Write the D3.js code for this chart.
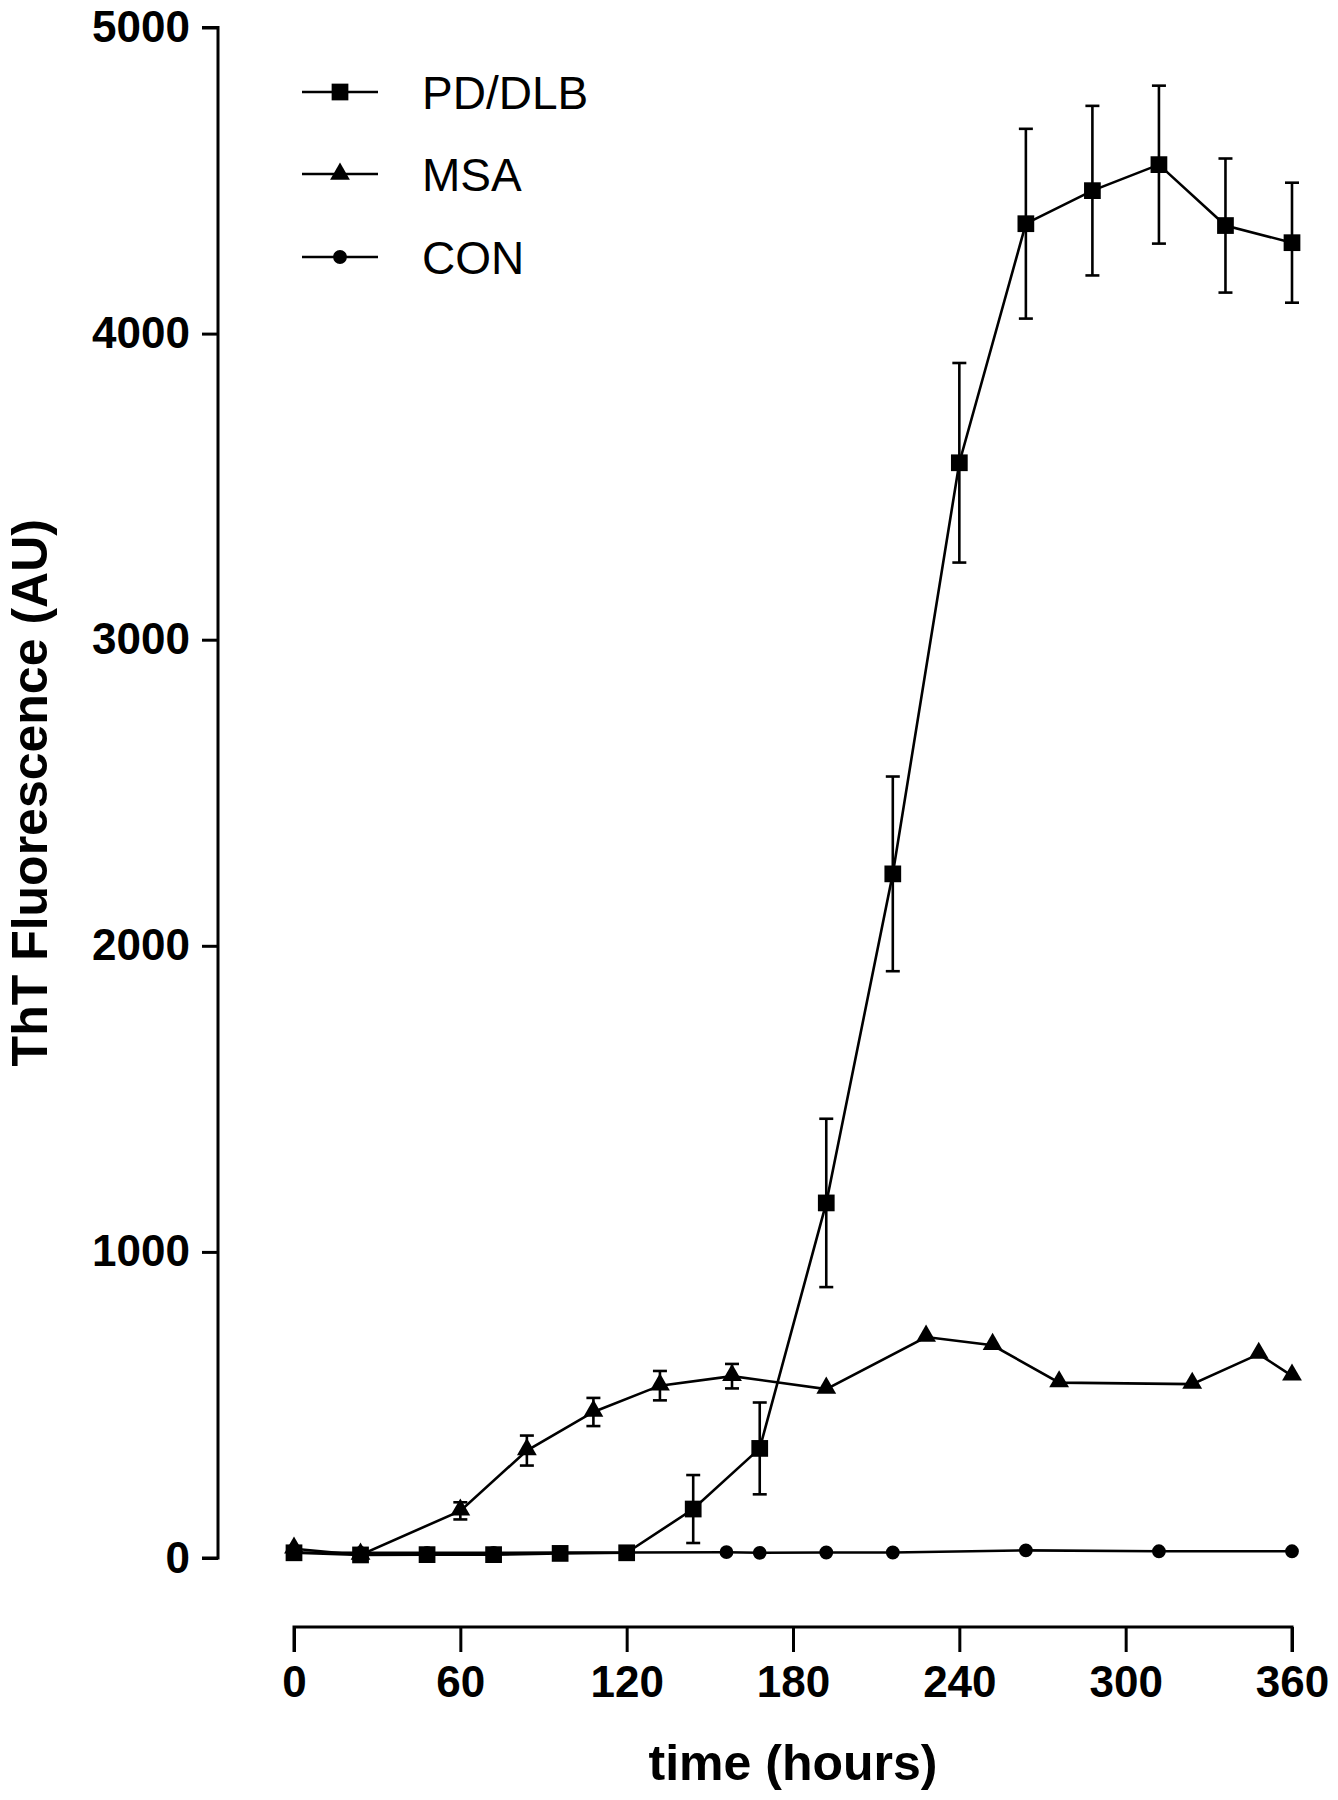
<!DOCTYPE html>
<html>
<head>
<meta charset="utf-8">
<script src="https://cdn.jsdelivr.net/npm/d3@7"></script>
<style>
  body { margin: 0; background: #fff; }
  svg text { font-family: "Liberation Sans", Arial, Helvetica, sans-serif; fill: #000; }
</style>
</head>
<body>
<div id="maincontent"></div>
<script>
// ---- data ----
var pdTime  = [0, 24, 48, 72, 96, 120, 144, 168, 192, 216, 240, 264, 288, 312, 336, 360];
var pdValue = [17, 10, 11, 11, 15, 17, 160, 358, 1160, 2235, 3578, 4359, 4467, 4552, 4353, 4297];
var pdErr   = [0, 0, 0, 0, 0, 0, 111, 150, 275, 318, 326, 310, 277, 258, 219, 196];

var msaTime  = [0, 24, 60, 84, 108, 132, 158, 192, 228, 252, 276, 324, 348, 360];
var msaValue = [30, 10, 154, 351, 477, 563, 594, 552, 722, 695, 573, 568, 666, 595];
var msaErr   = [0, 0, 28, 49, 46, 48, 40, 0, 0, 0, 0, 0, 0, 0];

var conTime  = [0, 24, 48, 72, 96, 120, 156, 168, 192, 216, 264, 312, 360];
var conValue = [18, 17, 17, 17, 18, 18, 19, 17, 18, 18, 25, 22, 22];

var xTicks = [0, 60, 120, 180, 240, 300, 360];
var yTicks = [0, 1000, 2000, 3000, 4000, 5000];
var seriesNames = ["PD/DLB", "MSA", "CON"];

// ---- layout ----
var width = 1338, height = 1800;

var svg = d3.select("#maincontent").append("svg")
    .attr("width", width)
    .attr("height", height);

var x = d3.scaleLinear().domain([0, 360]).range([294, 1292]);
var y = d3.scaleLinear().domain([0, 5000]).range([1558, 27.5]);

function zip(t, v, e) {
    return t.map(function (d, i) { return {t: d, v: v[i], e: e ? e[i] : 0}; });
}
var pd = zip(pdTime, pdValue, pdErr);
var msa = zip(msaTime, msaValue, msaErr);
var con = zip(conTime, conValue);

// y axis
var yAxis = svg.append("g")
    .attr("transform", "translate(218,0)")
    .call(d3.axisLeft(y).tickValues(yTicks).tickSize(16).tickPadding(12).tickFormat(d3.format("d")));
yAxis.select(".domain").attr("stroke", "#000").attr("stroke-width", 3)
    .attr("d", "M-16," + y(5000) + "H0V" + y(0) + "H-16");
yAxis.selectAll(".tick line").attr("stroke", "#000").attr("stroke-width", 3);
yAxis.selectAll(".tick text")
    .style("font-size", "44px").style("font-weight", "bold")
    .style("font-family", "'Liberation Sans', Arial, sans-serif");

// x axis (detached below the plot)
var xAxis = svg.append("g")
    .attr("transform", "translate(0,1627)")
    .call(d3.axisBottom(x).tickValues(xTicks).tickSize(25).tickPadding(14));
xAxis.select(".domain").attr("stroke", "#000").attr("stroke-width", 3)
    .attr("d", "M" + x(0) + ",25V0H" + x(360) + "V25");
xAxis.selectAll(".tick line").attr("stroke", "#000").attr("stroke-width", 3);
xAxis.selectAll(".tick text")
    .style("font-size", "44px").style("font-weight", "bold")
    .style("font-family", "'Liberation Sans', Arial, sans-serif");

// axis titles
svg.append("text")
    .attr("x", (x(0) + x(360)) / 2)
    .attr("y", 1780)
    .attr("text-anchor", "middle")
    .style("font-size", "50px").style("font-weight", "bold")
    .text("time (hours)");

svg.append("text")
    .attr("transform", "translate(47," + ((y(0) + y(5000)) / 2) + ")rotate(-90)")
    .attr("text-anchor", "middle")
    .style("font-size", "50px").style("font-weight", "bold")
    .text("ThT Fluorescence (AU)");

// lines
var line = d3.line()
    .x(function (d) { return x(d.t); })
    .y(function (d) { return y(d.v); });

var plot = svg.append("g");

[con, msa, pd].forEach(function (s) {
    plot.append("path")
        .datum(s)
        .attr("fill", "none")
        .attr("stroke", "#000")
        .attr("stroke-width", 2.6)
        .attr("d", line);
});

// error bars
function errorBars(data) {
    var g = plot.append("g").attr("stroke", "#000").attr("stroke-width", 2.6);
    var withErr = data.filter(function (d) { return d.e > 0; });
    g.selectAll(".stem").data(withErr).enter().append("line")
        .attr("x1", function (d) { return x(d.t); })
        .attr("x2", function (d) { return x(d.t); })
        .attr("y1", function (d) { return y(d.v + d.e); })
        .attr("y2", function (d) { return y(d.v - d.e); });
    g.selectAll(".capTop").data(withErr).enter().append("line")
        .attr("x1", function (d) { return x(d.t) - 7; })
        .attr("x2", function (d) { return x(d.t) + 7; })
        .attr("y1", function (d) { return y(d.v + d.e); })
        .attr("y2", function (d) { return y(d.v + d.e); });
    g.selectAll(".capBot").data(withErr).enter().append("line")
        .attr("x1", function (d) { return x(d.t) - 7; })
        .attr("x2", function (d) { return x(d.t) + 7; })
        .attr("y1", function (d) { return y(d.v - d.e); })
        .attr("y2", function (d) { return y(d.v - d.e); });
}
errorBars(msa);
errorBars(pd);

// markers
var symSquare = d3.symbol().type(d3.symbolSquare).size(280);
var symTriangle = d3.symbol().type(d3.symbolTriangle).size(170);
var symCircle = d3.symbol().type(d3.symbolCircle).size(150);

function markers(data, sym, dy) {
    plot.append("g").selectAll("path").data(data).enter().append("path")
        .attr("d", sym)
        .attr("fill", "#000")
        .attr("transform", function (d) { return "translate(" + x(d.t) + "," + (y(d.v) + (dy || 0)) + ")"; });
}
markers(con, symCircle);
markers(msa, symTriangle, -1);
markers(pd, symSquare);

// legend
var legendY = [92, 174, 257];
var legendSyms = [symSquare, symTriangle, symCircle];
var legend = svg.append("g");
seriesNames.forEach(function (name, i) {
    var row = legend.append("g").attr("transform", "translate(0," + legendY[i] + ")");
    row.append("line")
        .attr("x1", 302).attr("x2", 378)
        .attr("stroke", "#000").attr("stroke-width", 2.6);
    row.append("path")
        .attr("d", legendSyms[i])
        .attr("transform", "translate(340,0)")
        .attr("fill", "#000");
    row.append("text")
        .attr("x", 422)
        .attr("dy", "0.36em")
        .style("font-size", "46px")
        .text(name);
});
</script>
</body>
</html>
